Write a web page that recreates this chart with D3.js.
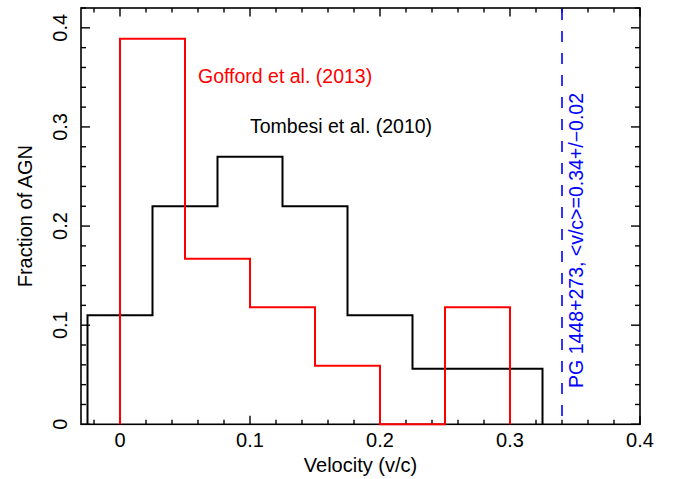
<!DOCTYPE html>
<html>
<head>
<meta charset="utf-8">
<script src="https://cdn.jsdelivr.net/npm/d3@7"></script>
<style>
  html, body { margin: 0; padding: 0; background: #fff; }
  svg { display: block; }
  text { font-family: "Liberation Sans", Arial, Helvetica, sans-serif; }
</style>
</head>
<body>
<div id="chart"></div>
<script>
// ---- data ----
const tombesiEdges = [-0.025, 0.025, 0.075, 0.125, 0.175, 0.225, 0.275, 0.325];
const tombesiValues = [0.11, 0.22, 0.27, 0.22, 0.11, 0.056, 0.056];
const goffordEdges = [0, 0.05, 0.1, 0.15, 0.2, 0.25, 0.3];
const goffordValues = [0.389, 0.167, 0.118, 0.059, 0, 0.118];
const pgVelocity = 0.34;
const xTicks = [0, 0.1, 0.2, 0.3, 0.4];
const yTicks = [0, 0.1, 0.2, 0.3, 0.4];
const xTickLabels = ["0", "0.1", "0.2", "0.3", "0.4"];
const yTickLabels = ["0", "0.1", "0.2", "0.3", "0.4"];
const labelGofford = "Gofford et al. (2013)";
const labelTombesi = "Tombesi et al. (2010)";
const labelPG = "PG 1448+273, <v/c>=0.34+/\u22120.02";

// ---- layout ----
const W = 673, H = 479;
const x = d3.scaleLinear().domain([-0.03, 0.4]).range([81, 640]);
const y = d3.scaleLinear().domain([0, 0.42]).range([424.3, 8]);

const svg = d3.select("#chart").append("svg")
  .attr("width", W).attr("height", H);

function stepPoints(edges, vals) {
  const pts = [[edges[0], 0]];
  vals.forEach((v, i) => { pts.push([edges[i], v]); pts.push([edges[i + 1], v]); });
  pts.push([edges[edges.length - 1], 0]);
  return pts;
}
const line = d3.line().x(d => x(d[0])).y(d => y(d[1]));

// frame
const x0 = x.range()[0], x1 = x.range()[1], y0 = y.range()[0], y1 = y.range()[1];
svg.append("rect").attr("x", x0).attr("y", y1).attr("width", x1 - x0).attr("height", y0 - y1)
  .attr("fill", "none").attr("stroke", "#000").attr("stroke-width", 1.6);

// ticks
const xMinor = d3.range(-0.02, 0.4001, 0.02).filter(v => !xTicks.some(t => Math.abs(t - v) < 1e-9));
const yMinor = d3.range(0.02, 0.4201, 0.02).filter(v => !yTicks.some(t => Math.abs(t - v) < 1e-9));
const tickG = svg.append("g").attr("stroke", "#000").attr("stroke-width", 1.4);
function xTick(v, len) {
  tickG.append("line").attr("x1", x(v)).attr("x2", x(v)).attr("y1", y0).attr("y2", y0 - len);
  tickG.append("line").attr("x1", x(v)).attr("x2", x(v)).attr("y1", y1).attr("y2", y1 + len);
}
function yTick(v, len) {
  tickG.append("line").attr("y1", y(v)).attr("y2", y(v)).attr("x1", x0).attr("x2", x0 + len);
  tickG.append("line").attr("y1", y(v)).attr("y2", y(v)).attr("x1", x1).attr("x2", x1 - len);
}
xTicks.forEach(v => xTick(v, 8.5));
xMinor.forEach(v => xTick(v, 4.5));
yTicks.forEach(v => yTick(v, 9));
yMinor.forEach(v => yTick(v, 5));

// blue dashed line
svg.append("line")
  .attr("x1", x(pgVelocity)).attr("x2", x(pgVelocity))
  .attr("y1", y(0.42)).attr("y2", y(0))
  .attr("stroke", "#0000ff").attr("stroke-width", 1.6)
  .attr("stroke-dasharray", "11,11").attr("stroke-dashoffset", -1);

// histograms
svg.append("path").attr("d", line(stepPoints(tombesiEdges, tombesiValues)))
  .attr("fill", "none").attr("stroke", "#000").attr("stroke-width", 2);
svg.append("path").attr("d", line(stepPoints(goffordEdges, goffordValues)))
  .attr("fill", "none").attr("stroke", "#ff0000").attr("stroke-width", 2);

// tick labels
svg.append("g").selectAll("text").data(xTicks).join("text")
  .attr("x", d => x(d)).attr("y", 447)
  .attr("text-anchor", "middle").attr("font-size", 20)
  .text((d, i) => xTickLabels[i]);
svg.append("g").selectAll("text").data(yTicks).join("text")
  .attr("transform", d => `translate(67,${y(d)}) rotate(-90)`)
  .attr("text-anchor", "middle").attr("font-size", 20)
  .text((d, i) => yTickLabels[i]);

// axis titles
svg.append("text").attr("x", (x0 + x1) / 2).attr("y", 472)
  .attr("text-anchor", "middle").attr("font-size", 20).text("Velocity (v/c)");
svg.append("text").attr("transform", `translate(32,${(y0 + y1) / 2}) rotate(-90)`)
  .attr("text-anchor", "middle").attr("font-size", 20).text("Fraction of AGN");

// annotations
svg.append("text").attr("x", x(0.06)).attr("y", y(0.3445))
  .attr("font-size", 19.5).attr("fill", "#ff0000").text(labelGofford);
svg.append("text").attr("x", x(0.1)).attr("y", y(0.294))
  .attr("font-size", 19.5).attr("fill", "#000").text(labelTombesi);
svg.append("text").attr("transform", `translate(${x(0.356)},${y(0.0367)}) rotate(-90)`)
  .attr("font-size", 19.5).attr("fill", "#0000ff").text(labelPG);
</script>
</body>
</html>
